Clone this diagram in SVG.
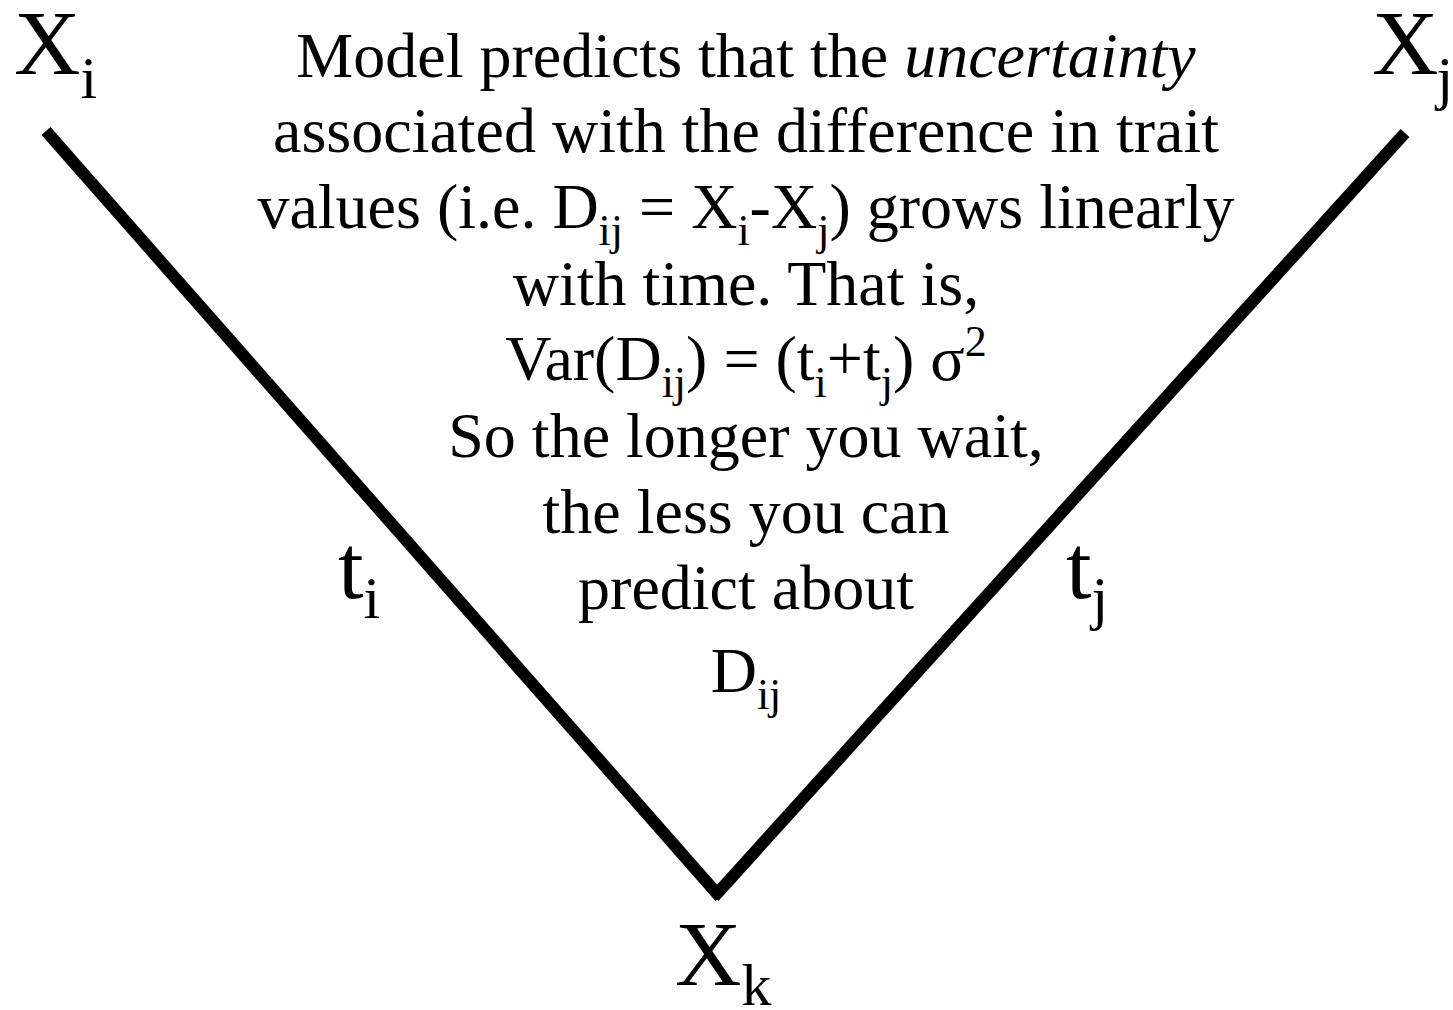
<svg xmlns="http://www.w3.org/2000/svg" width="1453" height="1010" viewBox="0 0 1453 1010">
<style>
text { font-family: "Liberation Serif", "Times New Roman", serif; fill: #000; }
.big { font-size: 92px; }
.bigsub { font-size: 60px; }
.body { font-size: 64px; text-anchor: middle; }
.sub { font-size: 44px; }
.edge { stroke: #000; stroke-width: 12; fill: none; stroke-linecap: butt; }
</style>
<rect width="1453" height="1010" fill="#fff"/>
<g id="connectors">
<line class="edge" x1="46" y1="131" x2="720" y2="897"/>
<line class="edge" x1="1405" y1="133" x2="714" y2="897"/>
</g>
<g id="node-xi"><text class="big" x="14" y="74">X<tspan class="bigsub" dy="24">i</tspan></text></g>
<g id="node-xj"><text class="big" x="1372" y="74">X<tspan class="bigsub" dx="-2" dy="24">j</tspan></text></g>
<g id="node-xk"><text class="big" x="675" y="985">X<tspan class="bigsub" dy="20">k</tspan></text></g>
<g id="label-ti"><text class="big" x="338" y="598">t<tspan class="bigsub" dy="20">i</tspan></text></g>
<g id="label-tj"><text class="big" x="1066" y="598">t<tspan class="bigsub" dy="20">j</tspan></text></g>
<g id="note">
<text class="body" x="746" y="77">Model predicts that the <tspan font-style="italic">uncertainty</tspan></text>
<text class="body" x="746" y="152">associated with the difference in trait</text>
<text class="body" x="746" y="228">values (i.e. D<tspan class="sub" dy="17">ij</tspan><tspan dy="-17"> = X</tspan><tspan class="sub" dy="17">i</tspan><tspan dy="-17">-X</tspan><tspan class="sub" dy="17">j</tspan><tspan dy="-17">) grows linearly</tspan></text>
<text class="body" x="746" y="305">with time. That is,</text>
<text class="body" x="746" y="380">Var(D<tspan class="sub" dy="17">ij</tspan><tspan dy="-17">) = (t</tspan><tspan class="sub" dy="17">i</tspan><tspan dy="-17">+t</tspan><tspan class="sub" dy="17">j</tspan><tspan dy="-17">) σ</tspan><tspan class="sub" dy="-24">2</tspan></text>
<text class="body" x="746" y="457">So the longer you wait,</text>
<text class="body" x="746" y="533">the less you can</text>
<text class="body" x="746" y="609">predict about</text>
<text class="body" x="746" y="692">D<tspan class="sub" dy="17">ij</tspan></text>
</g>
</svg>
